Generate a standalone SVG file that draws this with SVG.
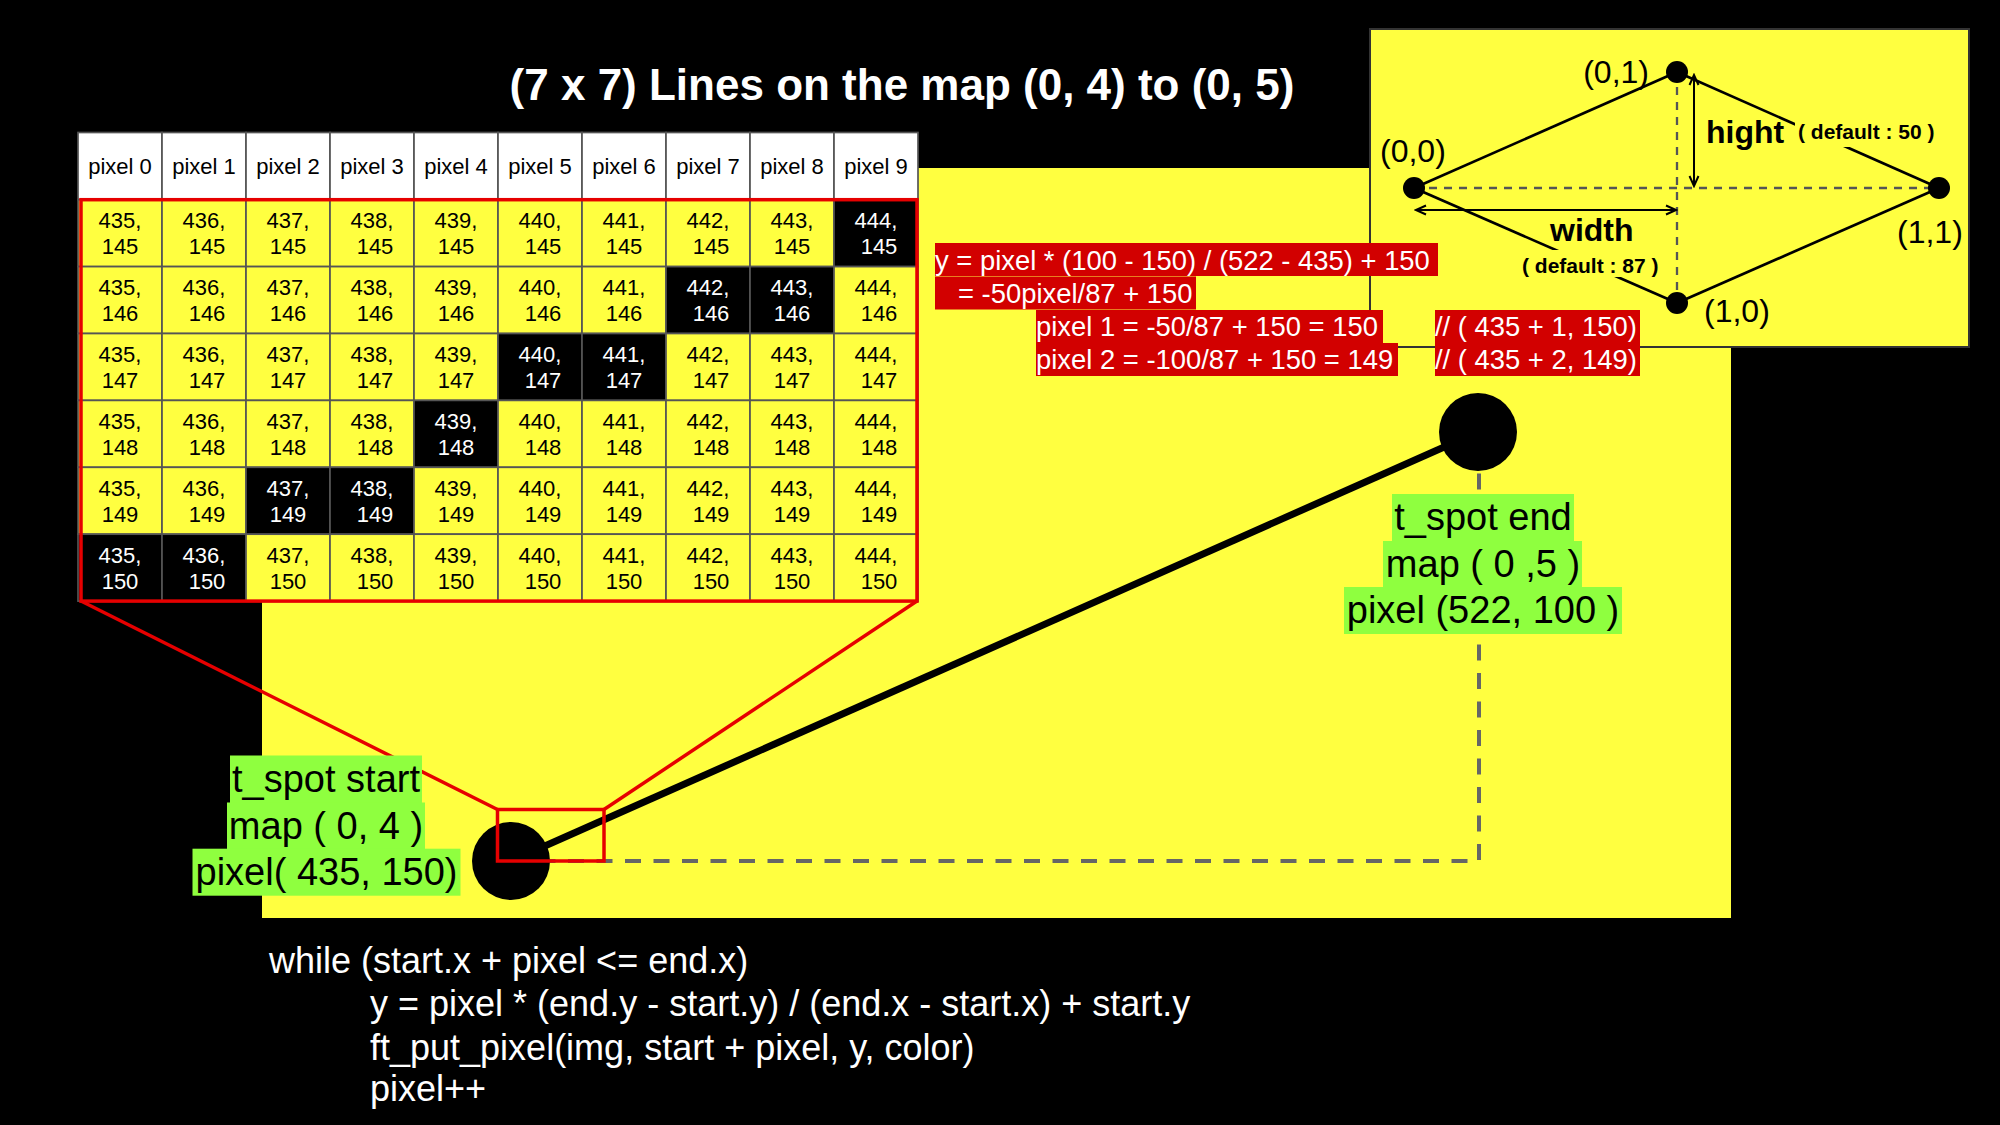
<svg xmlns="http://www.w3.org/2000/svg" width="2000" height="1125" viewBox="0 0 2000 1125">
<defs>
<style>
text{font-family:"Liberation Sans",Arial,Helvetica,sans-serif}
.ch{fill:#fff;stroke:#555;stroke-width:1.7}
.cy{fill:#FFFF40;stroke:#555;stroke-width:1.7}
.ck{fill:#000;stroke:#555;stroke-width:1.7}
.th{fill:#000;font-size:22px;text-anchor:middle}
.tk{fill:#000;font-size:22px;text-anchor:middle}
.tw{fill:#fff;font-size:22px;text-anchor:middle}
.red{fill:none;stroke:#E60000;stroke-width:3.5}
.rb{fill:#D20000}
.rt{fill:#fff;font-size:27.4px}
.gb{fill:#8FFF3F}
.gt{fill:#000;font-size:38px;text-anchor:middle}
.code{fill:#fff;font-size:36px}
.dl{fill:none;stroke:#000;stroke-width:2.7}
.dd{fill:none;stroke:#555;stroke-width:2.3;stroke-dasharray:8 7}
.lbl{fill:#000;font-size:32px}
.bl{fill:#000;font-size:32px;font-weight:bold}
.sm{fill:#000;font-size:21px;font-weight:bold}
.yb{fill:#FFFF40}
</style>
<marker id="ah" viewBox="-12 -6 14 12" refX="0" refY="0" markerWidth="14" markerHeight="12" markerUnits="userSpaceOnUse" orient="auto-start-reverse">
<path d="M-10,-4.5 L0,0 L-10,4.5" fill="none" stroke="#000" stroke-width="2"/>
</marker>
</defs>
<rect x="0" y="0" width="2000" height="1125" fill="#000"/>
<g id="map-area">
<rect x="262" y="168" width="1469" height="750" fill="#FFFF40"/>
</g>
<g id="iso-box">
<rect x="1370" y="29" width="599" height="318" fill="#FFFF40" stroke="#333" stroke-width="2"/>
</g>
<g id="title">
<text x="902" y="100" fill="#fff" font-size="44" font-weight="bold" text-anchor="middle">(7 x 7) Lines on the map (0, 4) to (0, 5)</text>
</g>
<g id="table">
<g transform="translate(0,132.5)">
<rect class="ch" x="78" y="0" width="84" height="67.2"/><text class="th" x="120" y="41.8">pixel 0</text>
<rect class="ch" x="162" y="0" width="84" height="67.2"/><text class="th" x="204" y="41.8">pixel 1</text>
<rect class="ch" x="246" y="0" width="84" height="67.2"/><text class="th" x="288" y="41.8">pixel 2</text>
<rect class="ch" x="330" y="0" width="84" height="67.2"/><text class="th" x="372" y="41.8">pixel 3</text>
<rect class="ch" x="414" y="0" width="84" height="67.2"/><text class="th" x="456" y="41.8">pixel 4</text>
<rect class="ch" x="498" y="0" width="84" height="67.2"/><text class="th" x="540" y="41.8">pixel 5</text>
<rect class="ch" x="582" y="0" width="84" height="67.2"/><text class="th" x="624" y="41.8">pixel 6</text>
<rect class="ch" x="666" y="0" width="84" height="67.2"/><text class="th" x="708" y="41.8">pixel 7</text>
<rect class="ch" x="750" y="0" width="84" height="67.2"/><text class="th" x="792" y="41.8">pixel 8</text>
<rect class="ch" x="834" y="0" width="84" height="67.2"/><text class="th" x="876" y="41.8">pixel 9</text>
</g>
<g transform="translate(0,199.7)">
<rect class="cy" x="78" y="0" width="84" height="66.9"/><text class="tk" x="120" y="28.8">435,<tspan x="120" y="54.8">145</tspan></text>
<rect class="cy" x="162" y="0" width="84" height="66.9"/><text class="tk" x="204" y="28.8">436,<tspan x="207" y="54.8">145</tspan></text>
<rect class="cy" x="246" y="0" width="84" height="66.9"/><text class="tk" x="288" y="28.8">437,<tspan x="288" y="54.8">145</tspan></text>
<rect class="cy" x="330" y="0" width="84" height="66.9"/><text class="tk" x="372" y="28.8">438,<tspan x="375" y="54.8">145</tspan></text>
<rect class="cy" x="414" y="0" width="84" height="66.9"/><text class="tk" x="456" y="28.8">439,<tspan x="456" y="54.8">145</tspan></text>
<rect class="cy" x="498" y="0" width="84" height="66.9"/><text class="tk" x="540" y="28.8">440,<tspan x="543" y="54.8">145</tspan></text>
<rect class="cy" x="582" y="0" width="84" height="66.9"/><text class="tk" x="624" y="28.8">441,<tspan x="624" y="54.8">145</tspan></text>
<rect class="cy" x="666" y="0" width="84" height="66.9"/><text class="tk" x="708" y="28.8">442,<tspan x="711" y="54.8">145</tspan></text>
<rect class="cy" x="750" y="0" width="84" height="66.9"/><text class="tk" x="792" y="28.8">443,<tspan x="792" y="54.8">145</tspan></text>
<rect class="ck" x="834" y="0" width="84" height="66.9"/><text class="tw" x="876" y="28.8">444,<tspan x="879" y="54.8">145</tspan></text>
</g>
<g transform="translate(0,266.6)">
<rect class="cy" x="78" y="0" width="84" height="66.9"/><text class="tk" x="120" y="28.8">435,<tspan x="120" y="54.8">146</tspan></text>
<rect class="cy" x="162" y="0" width="84" height="66.9"/><text class="tk" x="204" y="28.8">436,<tspan x="207" y="54.8">146</tspan></text>
<rect class="cy" x="246" y="0" width="84" height="66.9"/><text class="tk" x="288" y="28.8">437,<tspan x="288" y="54.8">146</tspan></text>
<rect class="cy" x="330" y="0" width="84" height="66.9"/><text class="tk" x="372" y="28.8">438,<tspan x="375" y="54.8">146</tspan></text>
<rect class="cy" x="414" y="0" width="84" height="66.9"/><text class="tk" x="456" y="28.8">439,<tspan x="456" y="54.8">146</tspan></text>
<rect class="cy" x="498" y="0" width="84" height="66.9"/><text class="tk" x="540" y="28.8">440,<tspan x="543" y="54.8">146</tspan></text>
<rect class="cy" x="582" y="0" width="84" height="66.9"/><text class="tk" x="624" y="28.8">441,<tspan x="624" y="54.8">146</tspan></text>
<rect class="ck" x="666" y="0" width="84" height="66.9"/><text class="tw" x="708" y="28.8">442,<tspan x="711" y="54.8">146</tspan></text>
<rect class="ck" x="750" y="0" width="84" height="66.9"/><text class="tw" x="792" y="28.8">443,<tspan x="792" y="54.8">146</tspan></text>
<rect class="cy" x="834" y="0" width="84" height="66.9"/><text class="tk" x="876" y="28.8">444,<tspan x="879" y="54.8">146</tspan></text>
</g>
<g transform="translate(0,333.5)">
<rect class="cy" x="78" y="0" width="84" height="66.9"/><text class="tk" x="120" y="28.8">435,<tspan x="120" y="54.8">147</tspan></text>
<rect class="cy" x="162" y="0" width="84" height="66.9"/><text class="tk" x="204" y="28.8">436,<tspan x="207" y="54.8">147</tspan></text>
<rect class="cy" x="246" y="0" width="84" height="66.9"/><text class="tk" x="288" y="28.8">437,<tspan x="288" y="54.8">147</tspan></text>
<rect class="cy" x="330" y="0" width="84" height="66.9"/><text class="tk" x="372" y="28.8">438,<tspan x="375" y="54.8">147</tspan></text>
<rect class="cy" x="414" y="0" width="84" height="66.9"/><text class="tk" x="456" y="28.8">439,<tspan x="456" y="54.8">147</tspan></text>
<rect class="ck" x="498" y="0" width="84" height="66.9"/><text class="tw" x="540" y="28.8">440,<tspan x="543" y="54.8">147</tspan></text>
<rect class="ck" x="582" y="0" width="84" height="66.9"/><text class="tw" x="624" y="28.8">441,<tspan x="624" y="54.8">147</tspan></text>
<rect class="cy" x="666" y="0" width="84" height="66.9"/><text class="tk" x="708" y="28.8">442,<tspan x="711" y="54.8">147</tspan></text>
<rect class="cy" x="750" y="0" width="84" height="66.9"/><text class="tk" x="792" y="28.8">443,<tspan x="792" y="54.8">147</tspan></text>
<rect class="cy" x="834" y="0" width="84" height="66.9"/><text class="tk" x="876" y="28.8">444,<tspan x="879" y="54.8">147</tspan></text>
</g>
<g transform="translate(0,400.4)">
<rect class="cy" x="78" y="0" width="84" height="66.9"/><text class="tk" x="120" y="28.8">435,<tspan x="120" y="54.8">148</tspan></text>
<rect class="cy" x="162" y="0" width="84" height="66.9"/><text class="tk" x="204" y="28.8">436,<tspan x="207" y="54.8">148</tspan></text>
<rect class="cy" x="246" y="0" width="84" height="66.9"/><text class="tk" x="288" y="28.8">437,<tspan x="288" y="54.8">148</tspan></text>
<rect class="cy" x="330" y="0" width="84" height="66.9"/><text class="tk" x="372" y="28.8">438,<tspan x="375" y="54.8">148</tspan></text>
<rect class="ck" x="414" y="0" width="84" height="66.9"/><text class="tw" x="456" y="28.8">439,<tspan x="456" y="54.8">148</tspan></text>
<rect class="cy" x="498" y="0" width="84" height="66.9"/><text class="tk" x="540" y="28.8">440,<tspan x="543" y="54.8">148</tspan></text>
<rect class="cy" x="582" y="0" width="84" height="66.9"/><text class="tk" x="624" y="28.8">441,<tspan x="624" y="54.8">148</tspan></text>
<rect class="cy" x="666" y="0" width="84" height="66.9"/><text class="tk" x="708" y="28.8">442,<tspan x="711" y="54.8">148</tspan></text>
<rect class="cy" x="750" y="0" width="84" height="66.9"/><text class="tk" x="792" y="28.8">443,<tspan x="792" y="54.8">148</tspan></text>
<rect class="cy" x="834" y="0" width="84" height="66.9"/><text class="tk" x="876" y="28.8">444,<tspan x="879" y="54.8">148</tspan></text>
</g>
<g transform="translate(0,467.3)">
<rect class="cy" x="78" y="0" width="84" height="66.9"/><text class="tk" x="120" y="28.8">435,<tspan x="120" y="54.8">149</tspan></text>
<rect class="cy" x="162" y="0" width="84" height="66.9"/><text class="tk" x="204" y="28.8">436,<tspan x="207" y="54.8">149</tspan></text>
<rect class="ck" x="246" y="0" width="84" height="66.9"/><text class="tw" x="288" y="28.8">437,<tspan x="288" y="54.8">149</tspan></text>
<rect class="ck" x="330" y="0" width="84" height="66.9"/><text class="tw" x="372" y="28.8">438,<tspan x="375" y="54.8">149</tspan></text>
<rect class="cy" x="414" y="0" width="84" height="66.9"/><text class="tk" x="456" y="28.8">439,<tspan x="456" y="54.8">149</tspan></text>
<rect class="cy" x="498" y="0" width="84" height="66.9"/><text class="tk" x="540" y="28.8">440,<tspan x="543" y="54.8">149</tspan></text>
<rect class="cy" x="582" y="0" width="84" height="66.9"/><text class="tk" x="624" y="28.8">441,<tspan x="624" y="54.8">149</tspan></text>
<rect class="cy" x="666" y="0" width="84" height="66.9"/><text class="tk" x="708" y="28.8">442,<tspan x="711" y="54.8">149</tspan></text>
<rect class="cy" x="750" y="0" width="84" height="66.9"/><text class="tk" x="792" y="28.8">443,<tspan x="792" y="54.8">149</tspan></text>
<rect class="cy" x="834" y="0" width="84" height="66.9"/><text class="tk" x="876" y="28.8">444,<tspan x="879" y="54.8">149</tspan></text>
</g>
<g transform="translate(0,534.2)">
<rect class="ck" x="78" y="0" width="84" height="66.9"/><text class="tw" x="120" y="28.8">435,<tspan x="120" y="54.8">150</tspan></text>
<rect class="ck" x="162" y="0" width="84" height="66.9"/><text class="tw" x="204" y="28.8">436,<tspan x="207" y="54.8">150</tspan></text>
<rect class="cy" x="246" y="0" width="84" height="66.9"/><text class="tk" x="288" y="28.8">437,<tspan x="288" y="54.8">150</tspan></text>
<rect class="cy" x="330" y="0" width="84" height="66.9"/><text class="tk" x="372" y="28.8">438,<tspan x="375" y="54.8">150</tspan></text>
<rect class="cy" x="414" y="0" width="84" height="66.9"/><text class="tk" x="456" y="28.8">439,<tspan x="456" y="54.8">150</tspan></text>
<rect class="cy" x="498" y="0" width="84" height="66.9"/><text class="tk" x="540" y="28.8">440,<tspan x="543" y="54.8">150</tspan></text>
<rect class="cy" x="582" y="0" width="84" height="66.9"/><text class="tk" x="624" y="28.8">441,<tspan x="624" y="54.8">150</tspan></text>
<rect class="cy" x="666" y="0" width="84" height="66.9"/><text class="tk" x="708" y="28.8">442,<tspan x="711" y="54.8">150</tspan></text>
<rect class="cy" x="750" y="0" width="84" height="66.9"/><text class="tk" x="792" y="28.8">443,<tspan x="792" y="54.8">150</tspan></text>
<rect class="cy" x="834" y="0" width="84" height="66.9"/><text class="tk" x="876" y="28.8">444,<tspan x="879" y="54.8">150</tspan></text>
</g>
<rect class="red" x="81" y="199.7" width="836" height="401.4"/>
</g>
<g id="connectors">
<path d="M511,861 H1479 V432" fill="none" stroke="#666" stroke-width="4" stroke-dasharray="16 12.5"/>
<line x1="511" y1="861" x2="1478" y2="432" stroke="#000" stroke-width="7"/>
</g>
<g id="t-spot-end">
<circle cx="1478" cy="432" r="39" fill="#000"/>
</g>
<g id="t-spot-start">
<circle cx="511" cy="861" r="39" fill="#000"/>
</g>
<g id="zoom-lines">
<line class="red" x1="81" y1="601" x2="497.5" y2="809.5"/>
<line class="red" x1="917" y1="601" x2="604" y2="809.5"/>
<rect class="red" x="497.5" y="809.5" width="106.5" height="51.5"/>
</g>
<g id="start-label">
<rect class="gb" x="230" y="755.5" width="192" height="47.5"/>
<rect class="gb" x="227" y="802.5" width="198" height="46.5"/>
<rect class="gb" x="192.5" y="848.7" width="268" height="47"/>
<text class="gt" x="326" y="791.5">t_spot start</text>
<text class="gt" x="326" y="838.5">map ( 0, 4 )</text>
<text class="gt" x="326.5" y="885">pixel( 435, 150)</text>
</g>
<g id="end-label">
<rect class="gb" x="1392" y="494" width="182" height="47"/>
<rect class="gb" x="1383" y="541" width="199" height="46"/>
<rect class="gb" x="1344" y="587" width="278" height="47"/>
<text class="gt" x="1483" y="530">t_spot end</text>
<text class="gt" x="1483" y="576.5">map ( 0 ,5 )</text>
<text class="gt" x="1483" y="623">pixel (522, 100 )</text>
</g>
<g id="formula">
<rect class="rb" x="935" y="243" width="503" height="33"/>
<rect class="rb" x="935" y="276.5" width="261" height="33"/>
<rect class="rb" x="1036" y="310" width="347" height="33"/>
<rect class="rb" x="1036" y="343" width="362" height="33"/>
<rect class="rb" x="1435" y="310" width="205" height="33"/>
<rect class="rb" x="1435" y="343" width="205" height="33"/>
<text class="rt" x="935" y="270">y = pixel * (100 - 150) / (522 - 435) + 150</text>
<text class="rt" x="958" y="303">= -50pixel/87 + 150</text>
<text class="rt" x="1036" y="336">pixel 1 = -50/87 + 150 = 150</text>
<text class="rt" x="1036" y="369">pixel 2 = -100/87 + 150 = 149</text>
<text class="rt" x="1435" y="336">// ( 435 + 1, 150)</text>
<text class="rt" x="1435" y="369">// ( 435 + 2, 149)</text>
</g>
<g id="iso-diagram">
<line class="dd" x1="1414" y1="188" x2="1939" y2="188"/>
<line class="dd" x1="1677" y1="72" x2="1677" y2="303"/>
<line class="dl" x1="1414" y1="188" x2="1677" y2="72"/>
<line class="dl" x1="1677" y1="72" x2="1939" y2="188"/>
<line class="dl" x1="1414" y1="188" x2="1677" y2="303"/>
<line class="dl" x1="1677" y1="303" x2="1939" y2="188"/>
<line x1="1694" y1="75" x2="1694" y2="186" stroke="#000" stroke-width="2" marker-start="url(#ah)" marker-end="url(#ah)"/>
<line x1="1416" y1="210" x2="1676" y2="210" stroke="#000" stroke-width="2" marker-start="url(#ah)" marker-end="url(#ah)"/>
<circle cx="1414" cy="188" r="11" fill="#000"/>
<circle cx="1677" cy="72" r="11" fill="#000"/>
<circle cx="1939" cy="188" r="11" fill="#000"/>
<circle cx="1677" cy="303" r="11" fill="#000"/>
<rect class="yb" x="1795" y="122" width="147" height="25"/>
<rect class="yb" x="1519" y="250" width="149" height="27"/>
<text class="lbl" x="1649" y="83" text-anchor="end">(0,1)</text>
<text class="lbl" x="1380" y="162">(0,0)</text>
<text class="lbl" x="1897" y="243">(1,1)</text>
<text class="lbl" x="1704" y="322">(1,0)</text>
<text class="bl" x="1706" y="143">hight</text>
<text class="sm" x="1798" y="139">( default : 50 )</text>
<text class="bl" x="1550" y="241">width</text>
<text class="sm" x="1522" y="273">( default : 87 )</text>
</g>
<g id="code">
<text class="code" x="269" y="973">while (start.x + pixel &lt;= end.x)</text>
<text class="code" x="370" y="1016">y = pixel * (end.y - start.y) / (end.x - start.x) + start.y</text>
<text class="code" x="370" y="1060">ft_put_pixel(img, start + pixel, y, color)</text>
<text class="code" x="370" y="1101">pixel++</text>
</g>
</svg>
